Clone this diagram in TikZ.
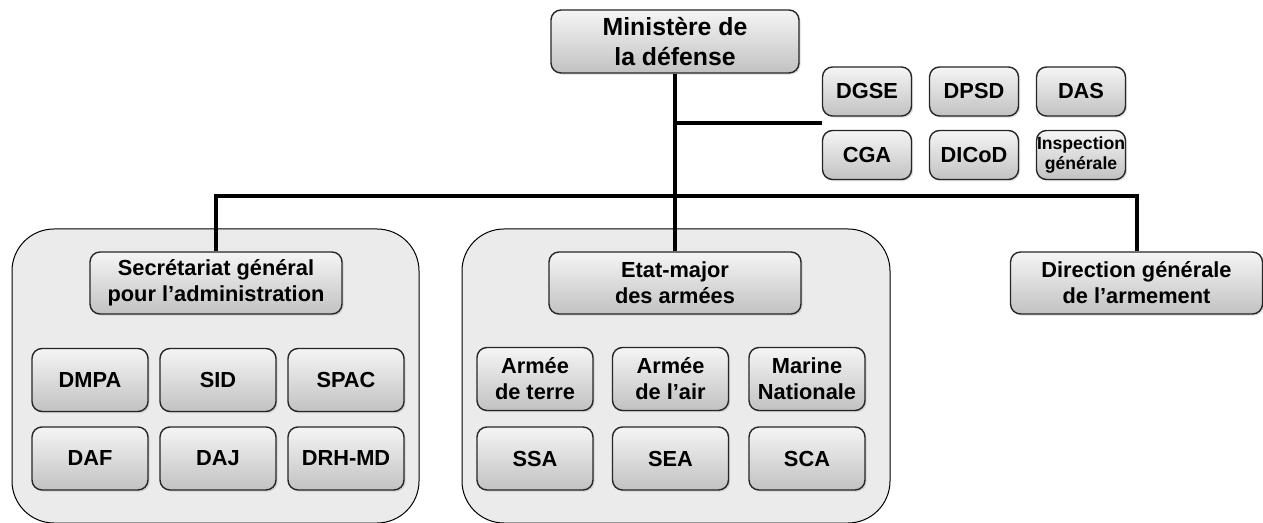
\documentclass[tikz,border=0pt]{standalone}
\usepackage{fontspec}
\setmainfont{Liberation Sans}
\usetikzlibrary{positioning, calc, shadows}

\begin{document}
\begin{tikzpicture}[
  x=0.5pt, y=-0.5pt,
  box/.style={
    draw=black!85, line width=0.7pt, rounded corners=5pt,
    top color=black!4, bottom color=black!24,
    drop shadow={opacity=0.25, shadow xshift=0.8pt, shadow yshift=-0.8pt},
    font=\fontsize{10.9}{13}\selectfont\bfseries, align=center,
    inner sep=1pt
  },
  head/.style={box, minimum width=126pt, minimum height=31pt},
  unit/.style={box, minimum width=58pt, minimum height=31.5pt},
  staff/.style={box, minimum width=44.5pt, minimum height=24.5pt, inner sep=0pt},
  group/.style={draw=black, line width=0.5pt, fill=black!8, rounded corners=21pt},
  link/.style={draw=black, line width=2pt},
]
  \useasboundingbox (0,0) rectangle (1263,523);

  % the two groups
  \draw[group] (12,229) rectangle (419,523);
  \draw[group] (462,229) rectangle (890,523);

  \node[box, minimum width=124pt, minimum height=31.5pt,
    font=\fontsize{12.4}{15}\selectfont\bfseries] (min) at (675,41.5)
    {Ministère de\\la défense};

  % attached services
  \foreach \nm/\px/\py/\txt in {dgse/867/91.5/DGSE, dpsd/974/91.5/DPSD,
      das/1081/91.5/DAS, cga/867/155/CGA, dicod/974/155/DICoD} {
    \node[staff] (\nm) at (\px,\py) {\txt};
  }
  \node[staff, font=\fontsize{8.8}{9.6}\selectfont\bfseries] (igen) at (1081,155)
    {Inspection\\générale};

  \node[head] (sg) at (216,283) {Secrétariat général\\pour l’administration};
  \node[head] (ema) at (675,283) {Etat-major\\des armées};
  \node[head] (dga) at (1136.5,283) {Direction générale\\de l’armement};

  \foreach \nm/\px/\py/\txt in {dmpa/90/380/DMPA, sid/218/380/SID,
      spac/346/380/SPAC, daf/90/458.5/DAF, daj/218/458.5/DAJ,
      drh/346/458.5/DRH-MD} {
    \node[unit] (\nm) at (\px,\py) {\txt};
  }
  \foreach \nm/\px/\py/\txt in {terre/535/379/{Armée\\de terre},
      air/670.5/379/{Armée\\de l’air}, marine/807/379/{Marine\\Nationale},
      ssa/535/458.5/SSA, sea/670.5/458.5/SEA, sca/807/458.5/SCA} {
    \node[unit] (\nm) at (\px,\py) {\txt};
  }

  % connectors
  \coordinate (bus) at (675,196);
  \coordinate (tap) at ($(dgse.south west)!0.5!(cga.north west)$);
  \draw[link] (min.south) -- (ema.north);
  \draw[link] (min.south |- tap) -- (tap);
  \draw[link] (sg.north) |- (bus) -| (dga.north);
\end{tikzpicture}
\end{document}
